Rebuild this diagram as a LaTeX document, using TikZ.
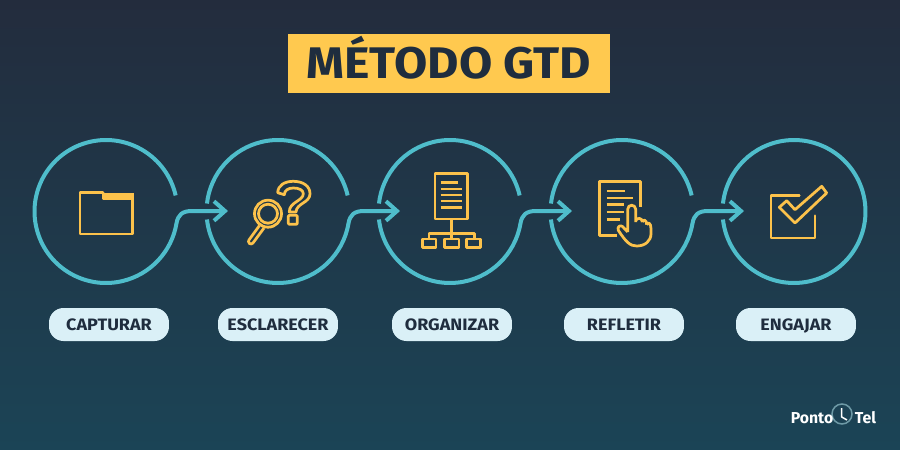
\documentclass[tikz,border=0pt]{standalone}
\usepackage{fontspec}
\setmainfont[FakeStretch=1.09]{Fira Sans}
\newfontfamily\logofont{Fira Sans}
\usepackage{xcolor}
\usetikzlibrary{arrows.meta}
\definecolor{bgtop}{HTML}{232C3D}
\definecolor{bgbot}{HTML}{1B4456}
\definecolor{ringcol}{HTML}{4FBDCB}
\definecolor{iconcol}{HTML}{FCC24B}
\definecolor{titlecol}{HTML}{FFC94F}
\definecolor{inkcol}{HTML}{1F2D3E}
\definecolor{pillcol}{HTML}{DAF0F7}
\definecolor{clockcol}{HTML}{6E9AA6}
\tikzset{
  ring/.style={draw=ringcol,line width=.08cm},
  link/.style={ring,line join=round,-{Straight Barb[length=2.2mm,width=3.9mm]}},
  icon/.style={draw=iconcol,line width=.055cm,line join=round},
  pill/.style={fill=pillcol,text=inkcol,rounded corners=.29cm,minimum width=2.4cm,minimum height=.66cm,inner sep=0pt,text height=.235cm,text depth=0pt,font=\bfseries\fontsize{9.4}{10}\selectfont},
  logo/.style={text=white,inner sep=0pt,anchor=base west,font=\logofont\bfseries\fontsize{9}{10}\selectfont}
}
\begin{document}
\begin{tikzpicture}[x=.02cm,y=-.02cm]
   \useasboundingbox (0,0) rectangle (900,450);
   \shade[top color=bgtop,bottom color=bgbot] (0,0) rectangle (900,450);
   % title
   \node[fill=titlecol,text=inkcol,minimum width=6.44cm,minimum height=1.18cm,inner sep=0pt,text height=.62cm,text depth=0pt,font=\bfseries\fontsize{25.2}{28}\selectfont] (title) at (449,63.5) {MÉTODO GTD};
   % circles and arrows
   \coordinate (c1) at (106,211.5);
   \coordinate (c2) at (278,211.5);
   \coordinate (c3) at (450,211.5);
   \coordinate (c4) at (622,211.5);
   \coordinate (c5) at (794,211.5);
   \coordinate (e2) at (228,211);
   \coordinate (e3) at (400,211);
   \coordinate (e4) at (572,211);
   \coordinate (e5) at (744,211);
   \draw[link] ([shift={(13:1.43cm)}]c1) arc (13:350.5:1.43cm) .. controls (178,215) and (182,211) .. (192,211) -- (e2);
   \draw[ring] ([shift={(13:1.43cm)}]c2) arc (13:173.6:1.43cm);
   \draw[link] ([shift={(186.4:1.43cm)}]c2) arc (186.4:350.5:1.43cm) .. controls (350,215) and (354,211) .. (364,211) -- (e3);
   \draw[ring] ([shift={(13:1.43cm)}]c3) arc (13:173.6:1.43cm);
   \draw[link] ([shift={(186.4:1.43cm)}]c3) arc (186.4:350.5:1.43cm) .. controls (522,215) and (526,211) .. (536,211) -- (e4);
   \draw[ring] ([shift={(13:1.43cm)}]c4) arc (13:173.6:1.43cm);
   \draw[link] ([shift={(186.4:1.43cm)}]c4) arc (186.4:350.5:1.43cm) .. controls (694,215) and (698,211) .. (708,211) -- (e5);
   \draw[ring] ([shift={(186.4:1.43cm)}]c5) arc (186.4:533.6:1.43cm);
   % folder
   \draw[icon] (80,192.5) -- (103,192.5) -- (103,198.5) -- (132.5,198.5) -- (132.5,234) -- (80,234) -- cycle;
   \fill[iconcol] (103,191.5) -- (105,193.2) -- (133.8,193.2) -- (133.8,199) -- (103,199) -- cycle;
   % magnifier and question mark
   \draw[icon] (268,213.7) circle (.27cm);
   \draw[icon] (268,213.7) circle (.19cm);
   \draw[icon,rounded corners=.05cm] (259.5,225.5) -- (247.5,242) -- (251.5,245) -- (264,228);
   \draw[icon] (277.7,192.7) .. controls (278,185) and (285,181.3) .. (293.3,181.3) .. controls (303,181.3) and (310,186) .. (310,193.7) .. controls (310,203) and (296.5,203) .. (296,212) -- (289.3,212) .. controls (289,202) and (303.3,201) .. (303.3,193.7) .. controls (303.3,190) and (299,188) .. (293.3,188) .. controls (288,188) and (284.5,190.5) .. (284.3,194.7) -- cycle;
   \draw[icon,rounded corners=.02cm] (288.3,215.3) rectangle (297.3,224.3);
   % document and tree
   \draw[icon] (435,173.3) rectangle (467.3,219);
   \draw[icon] (440.7,182.7) -- (458.3,182.7);
   \draw[icon] (440.7,189) -- (461.7,189);
   \draw[icon] (440.7,195) -- (461.7,195);
   \draw[icon] (440.7,201) -- (461.7,201);
   \draw[icon] (440.7,207.3) -- (461.7,207.3);
   \draw[icon] (451.7,219) -- (451.7,239);
   \draw[icon] (429,239) -- (429,233.3) -- (474.3,233.3) -- (474.3,239);
   \draw[icon] (422.3,239) rectangle (436,247.3);
   \draw[icon] (444.3,239) rectangle (459,247.3);
   \draw[icon] (466.7,239) rectangle (480.7,247.3);
   % sheet and hand
   \draw[icon] (616.7,235.3) -- (599.3,235.3) -- (599.3,181.3) -- (640.7,181.3) -- (640.7,207);
   \draw[icon] (606.7,191) -- (625,191);
   \draw[icon] (606.7,198) -- (633.3,198);
   \draw[icon] (606.7,204.7) -- (624.3,204.7);
   \draw[icon] (606.7,212) -- (624.3,212);
   \draw[icon] (606.7,219.3) -- (620,219.3);
   \draw[icon] (627.7,232) -- (627.7,209.3) .. controls (627.7,203.9) and (635.7,203.9) .. (635.7,209.3) -- (635.7,222) (635.7,220.5) .. controls (637,217.5) and (642.3,217.5) .. (642.3,222) (642.3,222) .. controls (643,219) and (646.7,219.5) .. (646.7,224.7) (646.7,224.7) .. controls (648,221.5) and (651,223) .. (651,228.7) -- (651,233.7) .. controls (651,241) and (645,246) .. (636.7,246) .. controls (630,246) and (626,242) .. (618.3,230.3) .. controls (617,227) and (620,224.5) .. (622.5,226.5) -- (627.7,232);
   % check box
   \draw[icon,line cap=round] (799.3,195.3) -- (771,195.3) -- (771,238) -- (815,238) -- (815,215.7);
   \draw[icon] (779.3,207.3) -- (786.7,200.7) -- (795,209.7) -- (821.7,186.3) -- (826.7,193) -- (795,223) -- cycle;
   % labels
   \node[pill] (l1) at (109,324.5) {CAPTURAR};
   \node[pill] (l2) at (278,324.5) {ESCLARECER};
   \node[pill] (l3) at (452,324.5) {ORGANIZAR};
   \node[pill] (l4) at (624,324.5) {REFLETIR};
   \node[pill] (l5) at (796,324.5) {ENGAJAR};
   % logo
   \draw[clockcol,line width=.03cm] (842,414) circle (.2cm);
   \draw[white,line width=.03cm] (841.7,408) -- (841.7,417) -- (847,420);
   \node[logo] (ponto) at (790.5,423) {Ponto};
   \node[logo] (tel) at (854.5,423) {Tel};
\end{tikzpicture}
\end{document}
